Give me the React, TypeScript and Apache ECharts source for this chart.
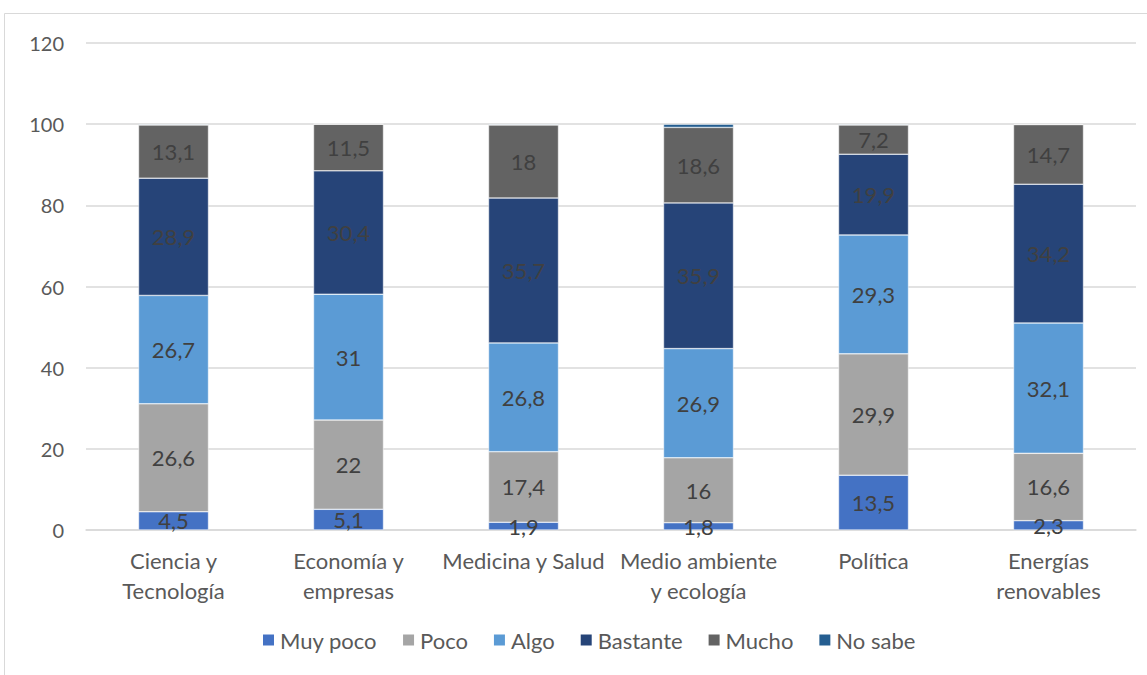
import React, { useEffect, useRef } from "react";
import * as echarts from "echarts";

const categories = [
  "Ciencia y\nTecnología",
  "Economía y\nempresas",
  "Medicina y Salud",
  "Medio ambiente\ny ecología",
  "Política",
  "Energías\nrenovables",
];
const seriesNames = ["Muy poco", "Poco", "Algo", "Bastante", "Mucho", "No sabe"];
const muyPoco = [4.5, 5.1, 1.9, 1.8, 13.5, 2.3];
const poco = [26.6, 22, 17.4, 16, 29.9, 16.6];
const algo = [26.7, 31, 26.8, 26.9, 29.3, 32.1];
const bastante = [28.9, 30.4, 35.7, 35.9, 19.9, 34.2];
const mucho = [13.1, 11.5, 18, 18.6, 7.2, 14.7];
const noSabe = [0.2, 0, 0.2, 0.8, 0.2, 0.1];
const colors = ["#4472C4", "#A5A5A5", "#5B9BD5", "#264478", "#636363", "#255E91"];
const yTicks = [0, 20, 40, 60, 80, 100, 120];

const FONT = "Lato, 'Open Sans', sans-serif";

export default function App() {
  const ref = useRef<HTMLDivElement>(null);
  useEffect(() => {
    if (!ref.current) return;
    const chart = echarts.init(ref.current, null, { renderer: "svg" });
    const data = [muyPoco, poco, algo, bastante, mucho, noSabe];
    chart.setOption({
      animation: false,
      color: colors,
      textStyle: { fontFamily: FONT },
      graphic: [
        {
          type: "rect",
          shape: { x: 4.5, y: 13.5, width: 1150, height: 670 },
          style: { fill: "none", stroke: "#D9D9D9", lineWidth: 1 },
          silent: true,
        },
      ],
      grid: { left: 86, right: 11, top: 43, bottom: 145, containLabel: false },
      legend: {
        bottom: 19,
        left: 256,
        itemWidth: 13,
        itemHeight: 13,
        itemGap: 24,
        icon: "rect",
        textStyle: { fontSize: 22, color: "#595959", fontFamily: FONT },
        data: seriesNames,
      },
      xAxis: {
        type: "category",
        data: categories,
        axisLine: { lineStyle: { color: "#D9D9D9", width: 1.5 } },
        axisTick: { show: false },
        axisLabel: {
          interval: 0,
          fontSize: 22,
          color: "#595959",
          lineHeight: 30,
          margin: 15,
          fontFamily: FONT,
        },
      },
      yAxis: {
        type: "value",
        min: 0,
        max: 120,
        interval: 20,
        axisLine: { show: false },
        axisTick: { show: false },
        splitLine: { lineStyle: { color: "#D9D9D9", width: 1.5 } },
        axisLabel: {
          fontSize: 20,
          color: "#595959",
          margin: 22,
          fontFamily: FONT,
          formatter: (v: number) => (yTicks.includes(v) ? String(v) : ""),
        },
      },
      series: seriesNames.map((name, i) => ({
        name,
        type: "bar",
        stack: "total",
        barWidth: 70,
        data: data[i],
        itemStyle: { color: colors[i], borderColor: "#ffffff", borderWidth: 0.5 },
        label: {
          show: i < 5,
          position: "inside",
          fontSize: 22,
          color: "#404040",
          fontFamily: FONT,
          formatter: (p: any) => String(p.value).replace(".", ","),
        },
      })),
    });
    return () => chart.dispose();
  }, []);
  return (
    <div
      ref={ref}
      style={{ position: "absolute", left: 0, top: 0, width: 1147, height: 675, background: "#fff" }}
    />
  );
}
